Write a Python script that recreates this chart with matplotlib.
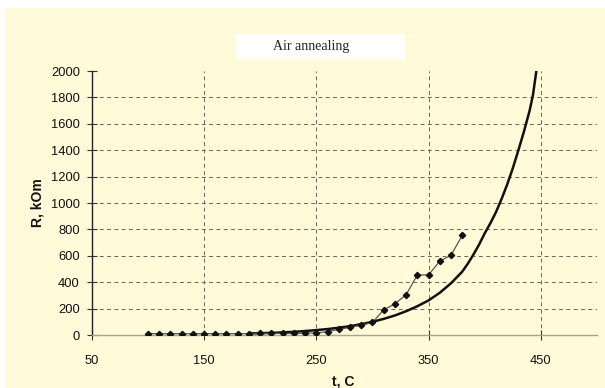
import matplotlib
matplotlib.use("Agg")
import matplotlib.pyplot as plt
from matplotlib.patches import Rectangle

# Measured data (markers)
t_meas = [100, 110, 120, 130, 140, 150, 160, 170, 180, 190, 200, 210, 220, 230, 240,
          250, 260, 270, 280, 290, 300, 310, 320, 330, 340, 350, 360, 370, 380]
R_meas = [10, 10, 10, 10, 10, 10, 10, 10, 10, 10, 12, 12, 12, 12, 15,
          15, 25, 43, 58, 75, 95, 190, 236, 305, 455, 455, 560, 604, 755]

# Smooth (trend) curve
t_fit = [190, 200, 210, 220, 230, 240, 250, 260, 270, 280, 290, 300, 310, 320, 330,
         340, 350, 360, 370, 380, 385, 390, 395, 400, 405, 410, 415, 420, 425, 430,
         435, 440, 443, 446]
R_fit = [12, 14, 16, 20, 24, 30, 37, 45, 55, 67, 82, 100, 122, 148, 180,
         218, 262, 320, 392, 480, 541, 610, 685, 770, 846, 930, 1030, 1140, 1263, 1400,
         1543, 1700, 1820, 2000]

x_ticks = [50, 150, 250, 350, 450]
y_ticks = list(range(0, 2001, 200))

W, H = 605, 388
fig = plt.figure(figsize=(W / 100, H / 100), dpi=100)
fig.patch.set_facecolor("white")
bg = "#FFFAD8"
fig.patches.append(Rectangle((6 / W, 0), 1, (H - 8) / H, transform=fig.transFigure,
                             facecolor=bg, edgecolor="none", zorder=-10))
# title box
fig.patches.append(Rectangle((235.7 / W, 1 - 59.3 / H), (405 - 235.7) / W, 25.3 / H,
                             transform=fig.transFigure, facecolor="white",
                             edgecolor="none", zorder=-9))
fig.text(311 / W, 1 - 46.5 / H, "Air annealing", family="Liberation Serif",
         fontsize=10, ha="center", va="center", color="#222")

ax = fig.add_axes([91.7 / W, 53 / H, (597 - 91.7) / W, 264 / H])
ax.set_zorder(2)
ax.set_facecolor("none")
ax.set_xlim(50, 500)
ax.set_ylim(0, 2000)
ax.set_xticks(x_ticks)
ax.set_yticks(y_ticks)

for s in ["top", "right"]:
    ax.spines[s].set_visible(False)
ax.spines["left"].set_color("#222")
ax.spines["left"].set_linewidth(1.0)
ax.spines["bottom"].set_color("#a8a290")
ax.spines["bottom"].set_linewidth(1.0)

ax.grid(True, linestyle=(0, (4, 3.5)), color="#6a6658", linewidth=0.7)
ax.yaxis.get_gridlines()[-1].set_visible(False)
ax.yaxis.get_gridlines()[0].set_visible(False)
ax.xaxis.get_gridlines()[0].set_visible(False)

ax.tick_params(axis="both", direction="inout", length=7, width=0.8, color="#333",
               labelsize=9.3)
ax.tick_params(axis="y", pad=5)
ax.tick_params(axis="x", pad=11)
for lab in ax.get_xticklabels() + ax.get_yticklabels():
    lab.set_family("Liberation Sans")
    lab.set_color("#111")

ax.plot(t_fit, R_fit, color="#111", linewidth=1.8, zorder=3)
ax.plot(t_meas, R_meas, color="#555", linewidth=0.9, marker="D", markersize=3.2,
        markerfacecolor="#111", markeredgecolor="#111", zorder=4)

fig.text(343.5 / W, 1 - 381.7 / H, "t, C", family="Liberation Sans", fontweight="bold",
         fontsize=10, ha="center", va="center", color="#111")
fig.text(37 / W, 1 - 203 / H, "R, kOm", family="Liberation Sans", fontweight="bold",
         fontsize=10, ha="center", va="center", rotation=90, color="#111")

fig.savefig("out.png", dpi=100)
